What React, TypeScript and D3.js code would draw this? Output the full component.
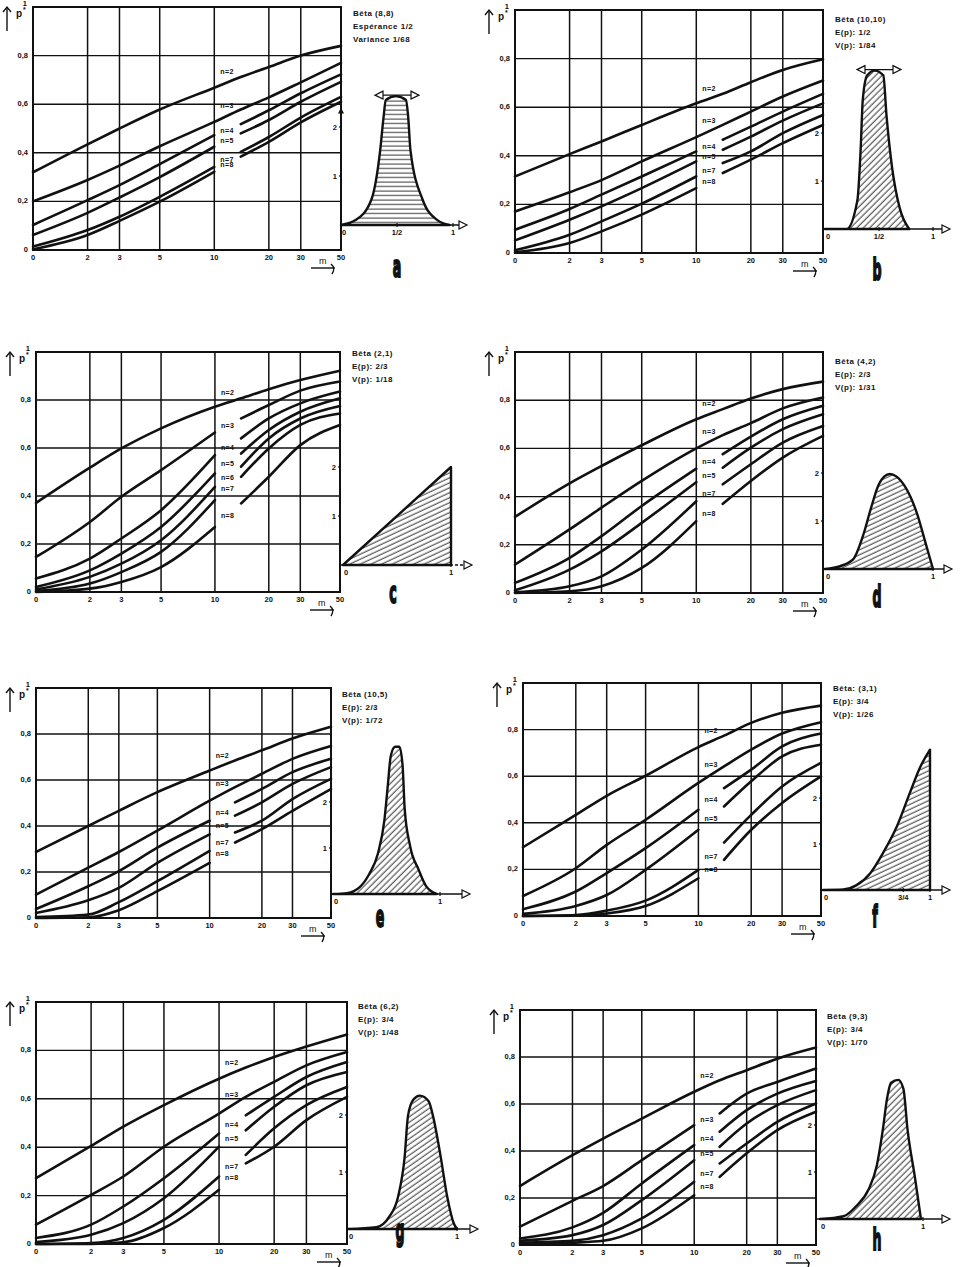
import * as d3 from "d3";

const FONT = "'Liberation Sans', Arial, sans-serif";

// abscissa points where each curve was read (m = 0 is drawn at the left edge)
const M_POINTS = [0, 2, 3, 5, 10, 14, 20, 30, 50];
const M_TICKS = [0, 2, 3, 5, 10, 20, 30, 50];
const M_GRID = [2, 3, 5, 10, 20, 30];
const P_TICKS = [0, 0.2, 0.4, 0.6, 0.8];
const P_TICK_LABELS = ["0", "0,2", "0,4", "0,6", "0,8"];

// panel a
const A_TITLE = ["Bêta (8,8)", "Espérance 1/2", "Variance 1/68"];
const A_N = [2, 3, 4, 5, 7, 8];
const A_SPLIT = [false, false, true, true, true, true];
const A_P = [
  [0.32, 0.435, 0.5, 0.578, 0.668, 0.712, 0.753, 0.8, 0.84],
  [0.2, 0.288, 0.347, 0.427, 0.527, 0.578, 0.628, 0.69, 0.77],
  [0.103, 0.205, 0.267, 0.353, 0.473, 0.518, 0.575, 0.645, 0.723],
  [0.062, 0.153, 0.216, 0.3, 0.425, 0.48, 0.535, 0.61, 0.692],
  [0.014, 0.082, 0.137, 0.219, 0.342, 0.404, 0.465, 0.545, 0.63],
  [0.003, 0.062, 0.12, 0.199, 0.322, 0.384, 0.445, 0.525, 0.61],
];
const A_DENS_P = [0, 0.13, 0.27, 0.35, 0.38, 0.4, 0.49, 0.58, 0.6, 0.62, 0.73, 0.86, 0.97];
const A_DENS_D = [0, 0.1, 0.51, 1.53, 2.2, 2.55, 2.63, 2.55, 2.2, 1.53, 0.51, 0.1, 0];

// panel b
const B_TITLE = ["Bêta (10,10)", "E(p): 1/2", "V(p): 1/84"];
const B_N = [2, 3, 4, 5, 7, 8];
const B_SPLIT = [false, false, true, true, true, true];
const B_P = [
  [0.315, 0.407, 0.459, 0.527, 0.616, 0.655, 0.703, 0.753, 0.797],
  [0.171, 0.25, 0.3, 0.377, 0.477, 0.527, 0.582, 0.644, 0.71],
  [0.096, 0.181, 0.24, 0.315, 0.418, 0.466, 0.52, 0.582, 0.655],
  [0.052, 0.137, 0.192, 0.267, 0.377, 0.425, 0.479, 0.545, 0.616],
  [0.011, 0.075, 0.13, 0.203, 0.315, 0.37, 0.418, 0.493, 0.568],
  [0.003, 0.041, 0.089, 0.158, 0.267, 0.329, 0.384, 0.452, 0.527],
];
const B_DENS_P = [0, 0.2, 0.3, 0.33, 0.35, 0.39, 0.46, 0.54, 0.57, 0.62, 0.69, 0.78];
const B_DENS_D = [0, 0, 0.6, 1.65, 2.7, 3.2, 3.3, 3.2, 2.35, 1.3, 0.45, 0];

// panel c
const C_TITLE = ["Bêta (2,1)", "E(p): 2/3", "V(p): 1/18"];
const C_N = [2, 3, 4, 5, 6, 7, 8];
const C_SPLIT = [false, true, true, true, true, true, true];
const C_P = [
  [0.371, 0.518, 0.598, 0.682, 0.772, 0.807, 0.845, 0.883, 0.922],
  [0.146, 0.292, 0.397, 0.508, 0.665, 0.723, 0.779, 0.839, 0.877],
  [0.056, 0.139, 0.223, 0.341, 0.57, 0.64, 0.723, 0.786, 0.835],
  [0.021, 0.09, 0.16, 0.271, 0.494, 0.577, 0.675, 0.751, 0.807],
  [0.011, 0.063, 0.118, 0.216, 0.438, 0.522, 0.64, 0.723, 0.775],
  [0.004, 0.035, 0.083, 0.167, 0.383, 0.48, 0.598, 0.696, 0.744],
  [0, 0.014, 0.042, 0.104, 0.271, 0.369, 0.48, 0.612, 0.696],
];
const C_DENS_P = [0, 1];
const C_DENS_D = [0, 2];

// panel d
const D_TITLE = ["Bêta (4,2)", "E(p): 2/3", "V(p): 1/31"];
const D_N = [2, 3, 4, 5, 7, 8];
const D_SPLIT = [false, false, true, true, true, true];
const D_P = [
  [0.316, 0.455, 0.527, 0.613, 0.721, 0.763, 0.807, 0.846, 0.877],
  [0.118, 0.264, 0.354, 0.465, 0.6, 0.655, 0.705, 0.766, 0.811],
  [0.042, 0.146, 0.236, 0.361, 0.516, 0.576, 0.649, 0.721, 0.777],
  [0.011, 0.097, 0.173, 0.291, 0.46, 0.52, 0.603, 0.68, 0.742],
  [0.003, 0.028, 0.069, 0.18, 0.381, 0.451, 0.534, 0.624, 0.693],
  [0, 0.007, 0.028, 0.104, 0.298, 0.37, 0.465, 0.562, 0.652],
];
const D_DENS_P = [0, 0.14, 0.26, 0.35, 0.43, 0.49, 0.55, 0.6, 0.66, 0.74, 0.85, 0.94, 1];
const D_DENS_D = [0, 0.06, 0.2, 0.68, 1.3, 1.72, 1.93, 1.98, 1.93, 1.72, 1.17, 0.47, 0];

// panel e
const E_TITLE = ["Bêta (10,5)", "E(p): 2/3", "V(p): 1/72"];
const E_N = [2, 3, 4, 5, 7, 8];
const E_SPLIT = [false, false, true, true, true, true];
const E_P = [
  [0.287, 0.4, 0.466, 0.547, 0.641, 0.685, 0.729, 0.78, 0.831],
  [0.102, 0.219, 0.287, 0.38, 0.51, 0.569, 0.627, 0.692, 0.748],
  [0.039, 0.138, 0.204, 0.306, 0.423, 0.503, 0.561, 0.634, 0.692],
  [0.022, 0.077, 0.131, 0.24, 0.364, 0.445, 0.503, 0.583, 0.656],
  [0.004, 0.015, 0.069, 0.16, 0.292, 0.372, 0.423, 0.517, 0.605],
  [0, 0.003, 0.034, 0.117, 0.24, 0.328, 0.386, 0.466, 0.561],
];
const E_DENS_P = [0, 0.13, 0.25, 0.34, 0.42, 0.48, 0.51, 0.54, 0.58, 0.62, 0.65, 0.67, 0.72, 0.8, 0.87, 0.97];
const E_DENS_D = [0, 0.02, 0.15, 0.44, 0.88, 1.6, 2.3, 3.0, 3.2, 3.2, 2.8, 1.85, 1.05, 0.53, 0.17, 0];

// panel f
const F_TITLE = ["Bêta: (3,1)", "E(p): 3/4", "V(p): 1/26"];
const F_N = [2, 3, 4, 5, 7, 8];
const F_SPLIT = [false, false, true, true, true, true];
const F_P = [
  [0.295, 0.434, 0.516, 0.602, 0.725, 0.774, 0.829, 0.872, 0.903],
  [0.086, 0.205, 0.305, 0.413, 0.571, 0.642, 0.714, 0.783, 0.832],
  [0.029, 0.105, 0.184, 0.291, 0.456, 0.549, 0.628, 0.728, 0.783],
  [0.009, 0.043, 0.09, 0.198, 0.37, 0.47, 0.578, 0.685, 0.735],
  [0, 0.004, 0.023, 0.066, 0.198, 0.315, 0.434, 0.556, 0.657],
  [0, 0.001, 0.011, 0.043, 0.162, 0.241, 0.37, 0.485, 0.599],
];
const F_DENS_P = [0, 0.19, 0.31, 0.44, 0.56, 0.69, 0.81, 0.91, 1];
const F_DENS_D = [0, 0.01, 0.1, 0.36, 0.8, 1.38, 2.1, 2.68, 3.05];

// panel g
const G_TITLE = ["Bêta (6,2)", "E(p): 3/4", "V(p): 1/48"];
const G_N = [2, 3, 4, 5, 7, 8];
const G_SPLIT = [false, false, true, true, true, true];
const G_P = [
  [0.272, 0.405, 0.485, 0.574, 0.683, 0.729, 0.773, 0.816, 0.866],
  [0.08, 0.203, 0.279, 0.402, 0.539, 0.608, 0.67, 0.738, 0.793],
  [0.025, 0.08, 0.155, 0.272, 0.457, 0.532, 0.608, 0.69, 0.752],
  [0.008, 0.038, 0.086, 0.189, 0.402, 0.47, 0.567, 0.656, 0.711],
  [0, 0.004, 0.025, 0.1, 0.279, 0.368, 0.478, 0.574, 0.649],
  [0, 0, 0.007, 0.066, 0.224, 0.333, 0.402, 0.512, 0.608],
];
const G_DENS_P = [0, 0.26, 0.38, 0.46, 0.52, 0.55, 0.6, 0.66, 0.74, 0.78, 0.85, 0.91, 0.97, 1];
const G_DENS_D = [0, 0.03, 0.22, 0.57, 1.27, 1.98, 2.27, 2.34, 2.24, 1.98, 1.27, 0.57, 0.1, 0];

// panel h
const H_TITLE = ["Bêta (9,3)", "E(p): 3/4", "V(p): 1/70"];
const H_N = [2, 3, 4, 5, 7, 8];
const H_SPLIT = [false, true, true, true, true, true];
const H_P = [
  [0.251, 0.382, 0.453, 0.538, 0.652, 0.701, 0.744, 0.793, 0.84],
  [0.078, 0.188, 0.251, 0.361, 0.51, 0.56, 0.644, 0.694, 0.751],
  [0.028, 0.075, 0.137, 0.262, 0.425, 0.482, 0.574, 0.644, 0.698],
  [0.018, 0.042, 0.085, 0.191, 0.361, 0.418, 0.517, 0.595, 0.659],
  [0.01, 0.018, 0.042, 0.113, 0.269, 0.347, 0.432, 0.524, 0.602],
  [0.004, 0.01, 0.018, 0.071, 0.212, 0.29, 0.39, 0.489, 0.567],
];
const H_DENS_P = [0, 0.23, 0.35, 0.47, 0.55, 0.61, 0.65, 0.69, 0.76, 0.81, 0.85, 0.92, 0.98];
const H_DENS_D = [0, 0.06, 0.27, 0.62, 1.12, 1.9, 2.55, 2.9, 2.96, 2.77, 1.9, 0.91, 0];

const HALF = [{ p: 0.5, label: "1/2" }];
const THREE_Q = [{ p: 0.75, label: "3/4" }];

const PANELS = [
  { id: "a", title: A_TITLE, ns: A_N, split: A_SPLIT, values: A_P, densP: A_DENS_P, densD: A_DENS_D, densTicks: HALF,
    frame: { l: 33, r: 341, t: 7, b: 250 }, dens: { x0: 341, x1: 453, base: 225, unit: 49, end: 467 },
    titleAt: [353, 16], letterAt: [397, 277], hatch: "hh", peakArrow: true, upArrow: true },
  { id: "b", title: B_TITLE, ns: B_N, split: B_SPLIT, values: B_P, densP: B_DENS_P, densD: B_DENS_D, densTicks: HALF,
    frame: { l: 515, r: 823, t: 10, b: 253 }, dens: { x0: 825, x1: 933, base: 229, unit: 48, end: 950 },
    titleAt: [835, 22], letterAt: [877, 280], hatch: "d45", peakArrow: true },
  { id: "c", title: C_TITLE, ns: C_N, split: C_SPLIT, values: C_P, densP: C_DENS_P, densD: C_DENS_D, densTicks: [],
    frame: { l: 36, r: 340, t: 352, b: 592 }, dens: { x0: 343, x1: 451, base: 565, unit: 49, end: 472 },
    titleAt: [352, 356], letterAt: [393, 603], hatch: "d25", dashedBase: true },
  { id: "d", title: D_TITLE, ns: D_N, split: D_SPLIT, values: D_P, densP: D_DENS_P, densD: D_DENS_D, densTicks: [],
    frame: { l: 515, r: 823, t: 352, b: 593 }, dens: { x0: 825, x1: 933, base: 569, unit: 48, end: 952 },
    titleAt: [835, 364], letterAt: [877, 607], hatch: "d25" },
  { id: "e", title: E_TITLE, ns: E_N, split: E_SPLIT, values: E_P, densP: E_DENS_P, densD: E_DENS_D, densTicks: [],
    frame: { l: 36, r: 331, t: 688, b: 918 }, dens: { x0: 333, x1: 440, base: 894, unit: 46, end: 470 },
    titleAt: [342, 697], letterAt: [380, 927], hatch: "d45" },
  { id: "f", title: F_TITLE, ns: F_N, split: F_SPLIT, values: F_P, densP: F_DENS_P, densD: F_DENS_D, densTicks: THREE_Q,
    frame: { l: 523, r: 821, t: 683, b: 916 }, dens: { x0: 823, x1: 930, base: 890, unit: 46, end: 950 },
    titleAt: [833, 691], letterAt: [875, 927], hatch: "d25" },
  { id: "g", title: G_TITLE, ns: G_N, split: G_SPLIT, values: G_P, densP: G_DENS_P, densD: G_DENS_D, densTicks: [],
    frame: { l: 36, r: 347, t: 1002, b: 1244 }, dens: { x0: 348, x1: 457, base: 1229, unit: 57, end: 478 },
    titleAt: [358, 1009], letterAt: [400, 1241], hatch: "d35" },
  { id: "h", title: H_TITLE, ns: H_N, split: H_SPLIT, values: H_P, densP: H_DENS_P, densD: H_DENS_D, densTicks: [],
    frame: { l: 520, r: 816, t: 1010, b: 1245 }, dens: { x0: 820, x1: 923, base: 1219, unit: 47, end: 950 },
    titleAt: [827, 1019], letterAt: [877, 1250], hatch: "d45" },
];

const INK = "#111";

function Panel({ cfg }: { cfg: any }) {
  const { frame: f, dens } = cfg;
  const x = d3.scaleLog().domain([1, 50]).range([f.l, f.r]);
  const y = d3.scaleLinear().domain([0, 1]).range([f.b, f.t]);
  const xm = (m: number) => x(Math.max(m, 1));
  const line = d3
    .line<number[]>()
    .x((d) => xm(d[0]))
    .y((d) => y(d[1]))
    .curve(d3.curveMonotoneX);

  const dx = d3.scaleLinear().domain([0, 1]).range([dens.x0, dens.x1]);
  const dy = d3.scaleLinear().domain([0, 1]).range([dens.base, dens.base - dens.unit]);
  const densPts = cfg.densP.map((p: number, i: number) => [p, cfg.densD[i]]);
  const area = d3
    .area<number[]>()
    .x((d) => dx(d[0]))
    .y0(dens.base)
    .y1((d) => dy(d[1]))
    .curve(d3.curveMonotoneX);

  const patId = `hatch-${cfg.id}`;
  const angle = cfg.hatch === "hh" ? 0 : cfg.hatch === "d25" ? -25 : cfg.hatch === "d35" ? -35 : -45;

  const segments: { d: string; key: string }[] = [];
  const labels: { x: number; y: number; text: string; key: string }[] = [];
  cfg.values.forEach((vals: number[], ci: number) => {
    const pts = M_POINTS.map((m, i) => [m, vals[i]]);
    if (cfg.split[ci]) {
      segments.push({ d: line(pts.filter((p) => p[0] <= 10)) || "", key: `${ci}l` });
      segments.push({ d: line(pts.filter((p) => p[0] >= 14)) || "", key: `${ci}r` });
      const ly = (y(vals[4]) + y(vals[5])) / 2 + 3;
      labels.push({ x: x(10) + 6, y: ly, text: `n=${cfg.ns[ci]}`, key: `${ci}` });
    } else {
      segments.push({ d: line(pts) || "", key: `${ci}` });
      const ly = (y(vals[4]) + y(vals[5])) / 2 - 8;
      labels.push({ x: x(10) + 6, y: ly, text: `n=${cfg.ns[ci]}`, key: `${ci}` });
    }
  });

  const ax = f.l - 26;
  const peakY = dy(d3.max(cfg.densD as number[]) as number) - 1;

  return (
    <g>
      <defs>
        <pattern id={patId} patternUnits="userSpaceOnUse" width={6} height={4.5}
          patternTransform={`rotate(${angle})`}>
          <line x1={0} y1={2} x2={6} y2={2} stroke={INK} strokeWidth={0.9} />
        </pattern>
      </defs>

      {/* grid */}
      {M_GRID.map((m) => (
        <line key={`gx${m}`} x1={x(m)} x2={x(m)} y1={f.t} y2={f.b} stroke={INK} strokeWidth={1.5} />
      ))}
      {P_TICKS.slice(1).map((p) => (
        <line key={`gy${p}`} x1={f.l} x2={f.r} y1={y(p)} y2={y(p)} stroke={INK} strokeWidth={1.4} />
      ))}
      <rect x={f.l} y={f.t} width={f.r - f.l} height={f.b - f.t} fill="none" stroke={INK} strokeWidth={2} />

      {/* curves */}
      {segments.map((s) => (
        <path key={s.key} d={s.d} fill="none" stroke={INK} strokeWidth={2.6} strokeLinecap="round" />
      ))}
      {labels.map((l) => (
        <text key={`lb${l.key}`} x={l.x} y={l.y} fontSize={7} fontWeight="bold" fontFamily={FONT} fill={INK}
          letterSpacing={0.4}>{l.text}</text>
      ))}

      {/* axis labels */}
      {P_TICKS.map((p, i) => (
        <text key={`ty${p}`} x={f.l - 5} y={y(p) + 2} textAnchor="end" fontSize={7.5} fontWeight="bold"
          fontFamily={FONT} fill={INK}>{P_TICK_LABELS[i]}</text>
      ))}
      <text x={f.l - 6} y={f.t - 1} textAnchor="end" fontSize={7.5} fontWeight="bold" fontFamily={FONT} fill={INK}>1</text>
      {M_TICKS.map((m) => (
        <text key={`tx${m}`} x={xm(m)} y={f.b + 10} textAnchor="middle" fontSize={7.5} fontWeight="bold"
          fontFamily={FONT} fill={INK}>{m}</text>
      ))}
      <text x={f.l - 17} y={f.t + 10} fontSize={10} fontWeight="bold" fontFamily={FONT} fill={INK}>p</text>
      <text x={f.l - 10} y={f.t + 5} fontSize={7} fontWeight="bold" fontFamily={FONT} fill={INK}>*</text>
      <line x1={ax} x2={ax} y1={f.t + 24} y2={f.t} stroke={INK} strokeWidth={1.4} />
      <path d={`M${ax - 4},${f.t + 5}L${ax},${f.t}L${ax + 4},${f.t + 5}`} fill="none" stroke={INK} strokeWidth={1.4} />
      <text x={f.r - 22} y={f.b + 14} fontSize={9} fontFamily={FONT} fill={INK}>m</text>
      <line x1={f.r - 30} x2={f.r - 6} y1={f.b + 18} y2={f.b + 18} stroke={INK} strokeWidth={1.4} />
      <path d={`M${f.r - 10},${f.b + 14}Q${f.r - 5},${f.b + 18} ${f.r - 9},${f.b + 24}`} fill="none" stroke={INK} strokeWidth={1.4} />

      {/* title */}
      {cfg.title.map((t: string, i: number) => (
        <text key={`tt${i}`} x={cfg.titleAt[0]} y={cfg.titleAt[1] + i * 13} fontSize={8} fontWeight="bold"
          fontFamily={FONT} fill={INK} letterSpacing={0.5}>{t}</text>
      ))}

      {/* density inset */}
      <path d={area(densPts) || ""} fill={`url(#${patId})`} stroke={INK} strokeWidth={2.4} strokeLinejoin="round" />
      <line x1={f.r} x2={dens.end - 6} y1={dens.base} y2={dens.base} stroke={INK} strokeWidth={1.4}
        strokeDasharray={cfg.dashedBase ? "3,2" : undefined} />
      <path d={`M${dens.end - 8},${dens.base - 4}L${dens.end},${dens.base}L${dens.end - 8},${dens.base + 4}Z`}
        fill="#fff" stroke={INK} strokeWidth={1.2} />
      <text x={dx(0) + 3} y={dens.base + 10} textAnchor="middle" fontSize={7.5} fontWeight="bold" fontFamily={FONT} fill={INK}>0</text>
      <text x={dx(1)} y={dens.base + 10} textAnchor="middle" fontSize={7.5} fontWeight="bold" fontFamily={FONT} fill={INK}>1</text>
      <line x1={dx(1)} x2={dx(1)} y1={dens.base - 2} y2={dens.base + 2} stroke={INK} strokeWidth={1.2} />
      {cfg.densTicks.map((t: any) => (
        <g key={t.label}>
          <line x1={dx(t.p)} x2={dx(t.p)} y1={dens.base - 2} y2={dens.base + 2} stroke={INK} strokeWidth={1.2} />
          <text x={dx(t.p)} y={dens.base + 10} textAnchor="middle" fontSize={7.5} fontWeight="bold" fontFamily={FONT} fill={INK}>{t.label}</text>
        </g>
      ))}
      {[1, 2].map((k) => (
        <g key={`dk${k}`}>
          <text x={f.r - 4} y={dy(k) + 3} textAnchor="end" fontSize={7.5} fontWeight="bold" fontFamily={FONT} fill={INK}>{k}</text>
          <line x1={f.r - 2} x2={f.r + 1} y1={dy(k)} y2={dy(k)} stroke={INK} strokeWidth={1.2} />
        </g>
      ))}
      {cfg.upArrow && (
        <path d={`M${f.r - 3},${dy(2.4) + 6}L${f.r},${dy(2.4)}L${f.r + 3},${dy(2.4) + 6}Z`} fill={INK} />
      )}
      {cfg.peakArrow && (
        <g>
          <line x1={dx(0.5) - 20} x2={dx(0.5) + 20} y1={peakY} y2={peakY} stroke={INK} strokeWidth={1.4} />
          <path d={`M${dx(0.5) - 14},${peakY - 4}L${dx(0.5) - 22},${peakY}L${dx(0.5) - 14},${peakY + 4}Z`}
            fill="#fff" stroke={INK} strokeWidth={1.2} />
          <path d={`M${dx(0.5) + 14},${peakY - 4}L${dx(0.5) + 22},${peakY}L${dx(0.5) + 14},${peakY + 4}Z`}
            fill="#fff" stroke={INK} strokeWidth={1.2} />
        </g>
      )}

      {/* panel letter */}
      <text transform={`translate(${cfg.letterAt[0]},${cfg.letterAt[1]}) scale(0.42,1)`} textAnchor="middle"
        fontSize={30} fontWeight="bold" fontFamily="'DejaVu Sans', sans-serif" fill={INK}
        stroke={INK} strokeWidth={2}>{cfg.id}</text>
    </g>
  );
}

export default function App() {
  return (
    <svg width={963} height={1267} style={{ position: "absolute", left: 0, top: 0, background: "#fff" }}>
      <rect width={963} height={1267} fill="#fff" />
      {PANELS.map((p) => (
        <Panel key={p.id} cfg={p} />
      ))}
    </svg>
  );
}
